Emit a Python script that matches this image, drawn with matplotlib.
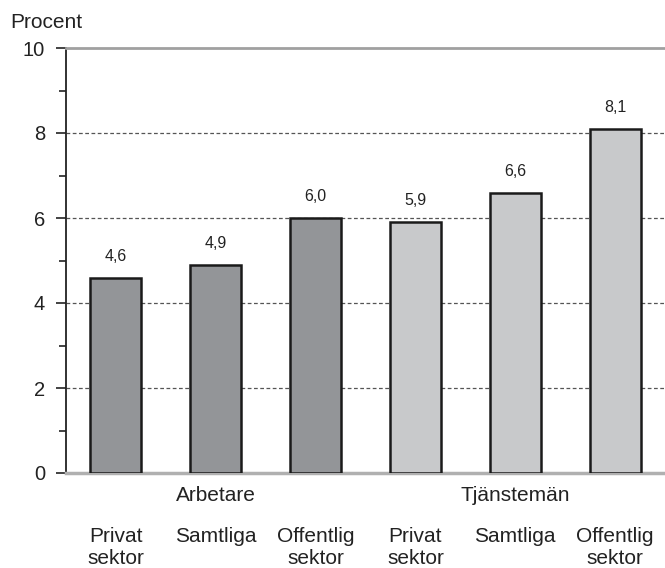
import matplotlib.pyplot as plt
from matplotlib.transforms import blended_transform_factory

plt.rcParams['font.family'] = ['Liberation Sans', 'DejaVu Sans']

# data
kategorier = ["Privat\nsektor", "Samtliga", "Offentlig\nsektor",
              "Privat\nsektor", "Samtliga", "Offentlig\nsektor"]
grupper = ["Arbetare", "Tjänstemän"]
arbetare = [4.6, 4.9, 6.0]
tjansteman = [5.9, 6.6, 8.1]
etiketter = ["4,6", "4,9", "6,0", "5,9", "6,6", "8,1"]

varden = arbetare + tjansteman
farger = ["#939598"] * len(arbetare) + ["#c8c9cb"] * len(tjansteman)
x = list(range(len(varden)))

fig = plt.figure(figsize=(6.65, 5.68), dpi=100)
ax = fig.add_axes([66 / 665, 1 - 473 / 568, 599 / 665, 425 / 568])

staplar = ax.bar(x, varden, width=0.51, color=farger, edgecolor="#1a1a1a",
                 linewidth=1.8, zorder=3)
for s, txt in zip(staplar, etiketter):
    ax.annotate(txt, (s.get_x() + s.get_width() / 2, s.get_height()),
                xytext=(0, 10), textcoords="offset points",
                ha="center", va="bottom", fontsize=11.5, color="#222222")

ax.set_xlim(-0.5, 5.5)
ax.set_ylim(0, 10)
ax.set_yticks([0, 2, 4, 6, 8, 10])
ax.set_yticks([1, 3, 5, 7, 9], minor=True)
ax.tick_params(axis="y", which="major", length=7, width=1.2, color="#222222",
               labelsize=14.5, pad=8, labelcolor="#222222")
ax.tick_params(axis="y", which="minor", length=5, width=1.2, color="#222222")
ax.set_xticks(x)
ax.set_xticklabels(kategorier, fontsize=15, color="#222222", linespacing=1.17)
ax.tick_params(axis="x", length=0, pad=39)

for v in [2, 4, 6, 8]:
    ax.axhline(v, color="#555555", linewidth=0.9, linestyle=(0, (3, 2)), zorder=1)

ax.spines["right"].set_visible(False)
ax.spines["top"].set_color("#a0a0a0")
ax.spines["top"].set_linewidth(2)
ax.spines["bottom"].set_color("#b0b0b0")
ax.spines["bottom"].set_linewidth(2.5)
ax.spines["left"].set_color("#222222")
ax.spines["left"].set_linewidth(1.3)

trans = blended_transform_factory(ax.transData, ax.transAxes)
ax.text(1, -0.054, grupper[0], transform=trans, ha="center", va="center",
        fontsize=15, color="#222222")
ax.text(4, -0.054, grupper[1], transform=trans, ha="center", va="center",
        fontsize=15, color="#222222")

fig.text(10 / 665, 1 - 23 / 568, "Procent", ha="left", va="center",
         fontsize=15, color="#222222")

plt.savefig("out.png", dpi=100)
